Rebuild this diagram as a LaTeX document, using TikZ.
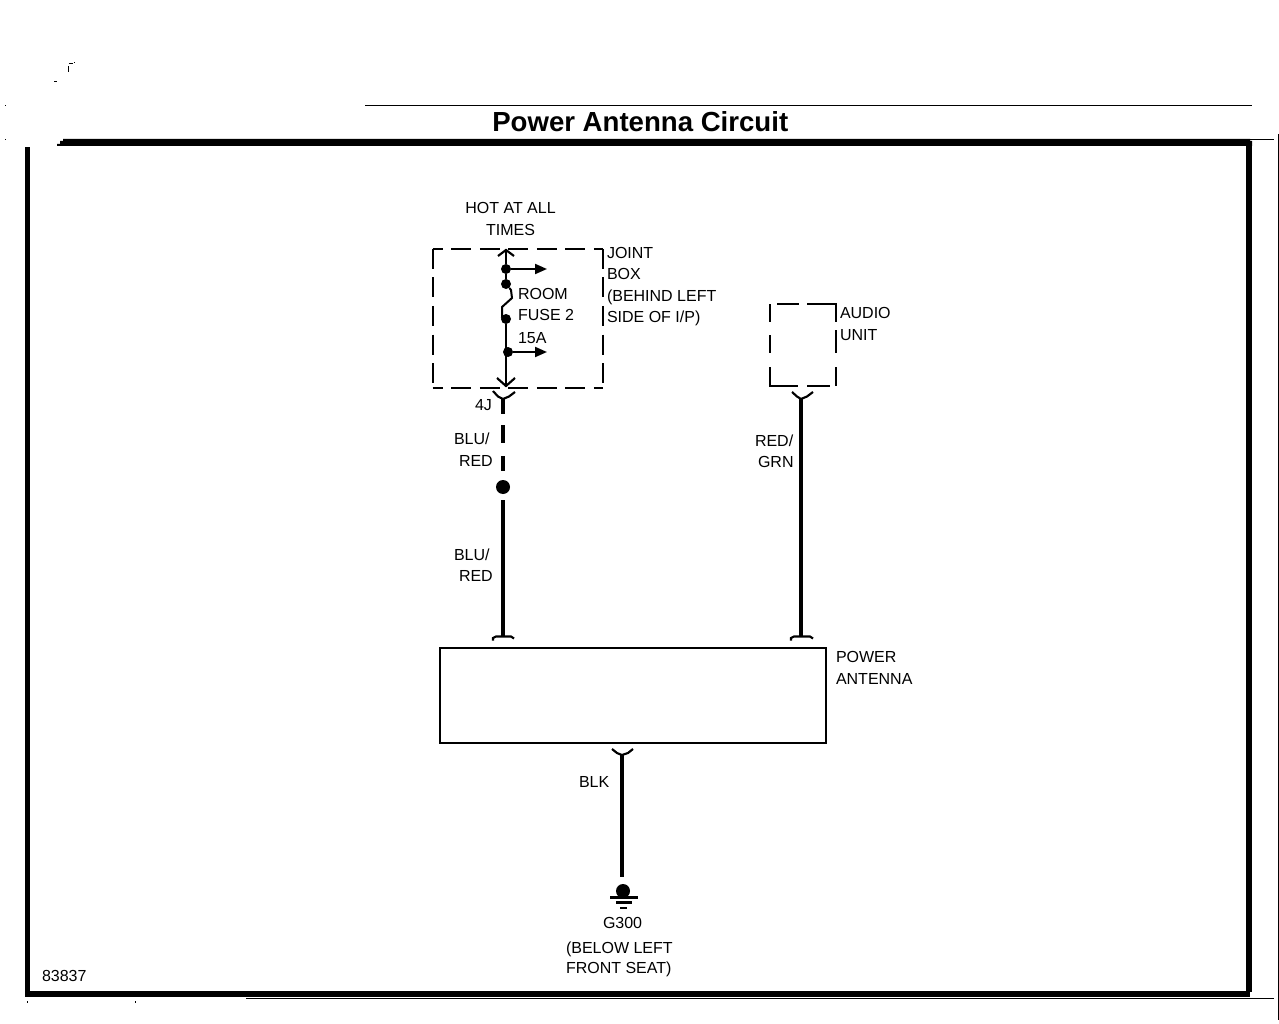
\documentclass[tikz,border=0pt]{standalone}
\usepackage{fontspec}
\setmainfont{Liberation Sans}
\usetikzlibrary{arrows.meta}
\tikzset{
  lbl/.style={anchor=base west,inner sep=0pt,outer sep=0pt,font=\fontsize{12}{12}\selectfont},
  lblc/.style={anchor=base,inner sep=0pt,outer sep=0pt,font=\fontsize{12}{12}\selectfont},
  titletext/.style={anchor=base west,inner sep=0pt,font=\bfseries\fontsize{20.7}{20.7}\selectfont},
  hair/.style={line width=0.75pt},
  thinwire/.style={line width=1.5pt},
  wire/.style={line width=2.7pt},
  term/.style={line width=1.6pt},
  dashside/.style={line width=1.6pt,dash pattern=on 15pt off 6.4pt},
  dot/.style={circle,fill=black,inner sep=0pt,minimum size=7.5pt},
  bigdot/.style={circle,fill=black,inner sep=0pt,minimum size=10.5pt},
  boxnode/.style={rectangle,draw=black,line width=1.5pt,inner sep=0pt},
  branch/.style={thinwire,-{Triangle[length=9pt,width=7.5pt]}},
  speck/.style={fill=black}
}
\begin{document}
\begin{tikzpicture}[x=0.75pt,y=-0.75pt]
\useasboundingbox (0,0) rectangle (1279,1024);
% stray marks
\fill[speck] (68,66) rectangle (69,72);
\fill[speck] (69,63) rectangle (73,64);
\fill[speck] (74,62) rectangle (75,63);
\fill[speck] (54,81) rectangle (57,82);
\fill[speck] (5,105) rectangle (6,106);
\fill[speck] (5,139) rectangle (6,140);
\fill[speck] (27,1001) rectangle (28,1003);
\fill[speck] (135,1001) rectangle (136,1003);
% rules and frame
\draw[hair] (365,105.5) -- (1252,105.5);
\draw[hair] (1250,139.5) -- (1274,139.5);
\draw[hair] (1278.5,134) -- (1278.5,1020);
\draw[hair] (246,998.5) -- (1274,998.5);
\fill (57,146) -- (57,144) -- (60,144) -- (60,141) -- (63,141) -- (63,139) -- (1250,139) -- (1250,141) -- (1252,141) -- (1252,146) -- cycle;
\fill (25,147) rectangle (30,997);
\fill (25,991) rectangle (1250,997);
\fill (1246,146) rectangle (1252,992);
% title
\node[titletext] (title) at (492,132) {Power Antenna Circuit};
% joint box
\node (joint) at (518,318.5) [minimum width=127.5pt,minimum height=104pt,inner sep=0pt] {};
\draw[dashside,dash phase=7.5pt] (joint.north west) -- (joint.north east);
\draw[dashside,dash phase=7.5pt] (joint.south west) -- (joint.south east);
\draw[dashside] (joint.north west) -- (joint.south west);
\draw[dashside] (joint.north east) -- (joint.south east);
% internal wiring
\coordinate (jtop) at (506,250);
\coordinate (jbot) at (506,386);
\node[dot] (d1) at (506,269) {};
\node[dot] (d2) at (506,284) {};
\node[dot] (d3) at (506,319) {};
\node[dot] (d4) at (508,352) {};
\coordinate (a1) at (547,269);
\coordinate (a2) at (547,352);
\draw[thinwire] (jtop) -- (d1) -- (d2);
\draw[thinwire] (d2) -- (511,290) -- (512,298) -- (502,307) -- (502,317) -- (d3);
\draw[thinwire] (d3) -- (506,352) -- (jbot);
\draw[branch] (d1) -- (a1);
\draw[branch] (d4) -- (a2);
\draw[term] (498,256) -- (jtop) -- (514,256);
\draw[term] (497,378) -- (jbot) -- (515,378);
% joint splice
\coordinate (fourj) at (503,399);
\node[bigdot] (splice) at (503,487) {};
\coordinate (w1) at (503,414);
\coordinate (w2) at (503,425);
\coordinate (w3) at (503,443);
\coordinate (w4) at (503,456);
\coordinate (w5) at (503,471);
\coordinate (w6) at (503,500);
\coordinate (pa1) at (503,636);
\draw[wire] (fourj) -- (w1);
\draw[wire] (w2) -- (w3);
\draw[wire] (w4) -- (w5);
\draw[wire] (w6) -- (pa1);
\draw[term] (493,391) -- (498,396.5) -- (fourj) -- (509,396.5) -- (515,392);
\draw[term] (493,640.5) -- (493,638) -- (496,636.5) -- (511,636.5) -- (514,638.5);
% audio unit
\node (audio) at (803,345) [minimum width=49.5pt,minimum height=61.5pt,inner sep=0pt] {};
\draw[term] (770,304) -- (770,322);
\draw[term] (770,335) -- (770,353);
\draw[term] (770,367) -- (770,386) -- (798,386);
\draw[term] (807,386) -- (830,386);
\draw[term] (777,304) -- (799,304);
\draw[term] (807,304) -- (836,304) -- (836,322);
\draw[term] (836,330) -- (836,353);
\draw[term] (836,367) -- (836,386);
\coordinate (au) at (801,399);
\coordinate (pa2) at (801,636);
\draw[wire] (au) -- (pa2);
\draw[term] (792,392) -- (797,396.5) -- (au) -- (807,396.5) -- (813,392);
\draw[term] (791,640.5) -- (791,638) -- (794,636.5) -- (810,636.5) -- (813,638.5);
% power antenna
\node[boxnode,minimum width=289.5pt,minimum height=71.25pt] (ant) at (633,695.5) {};
% ground
\coordinate (gtop) at (622,755);
\coordinate (gbot) at (622,877);
\draw[wire] (gtop) -- (gbot);
\draw[term] (612,749) -- (617,753) -- (gtop) -- (628,753) -- (633,749);
\node[bigdot] (gnd) at (623,891) {};
\draw[term] (610,897.5) -- (638,897.5);
\draw[term] (616,902.5) -- (632,902.5);
\draw[term] (620,908) -- (627,908);
% labels
\node[lblc] (t1) at (510.5,214) {HOT AT ALL};
\node[lblc] (t2) at (510.5,235) {TIMES};
\node[lbl] (t3) at (607,258) {JOINT};
\node[lbl] (t4) at (607,279) {BOX};
\node[lbl] (t5) at (607,301) {(BEHIND LEFT};
\node[lbl] (t6) at (607,322) {SIDE OF I/P)};
\node[lbl] (t7) at (518,299) {ROOM};
\node[lbl] (t8) at (518,320) {FUSE 2};
\node[lbl] (t9) at (518,343) {15A};
\node[lbl] (t10) at (475,410) {4J};
\node[lbl] (t11) at (454,444) {BLU/};
\node[lbl] (t12) at (459,466) {RED};
\node[lbl] (t13) at (454,560) {BLU/};
\node[lbl] (t14) at (459,581) {RED};
\node[lbl] (t15) at (755,446) {RED/};
\node[lbl] (t16) at (758,467) {GRN};
\node[lbl] (t17) at (840,318) {AUDIO};
\node[lbl] (t18) at (840,340) {UNIT};
\node[lbl] (t19) at (836,662) {POWER};
\node[lbl] (t20) at (836,684) {ANTENNA};
\node[lbl] (t21) at (579,787) {BLK};
\node[lbl] (t22) at (603,928) {G300};
\node[lbl] (t23) at (566,953) {(BELOW LEFT};
\node[lbl] (t24) at (566,973) {FRONT SEAT)};
\node[lbl] (t25) at (42,981) {83837};
\end{tikzpicture}
\end{document}
